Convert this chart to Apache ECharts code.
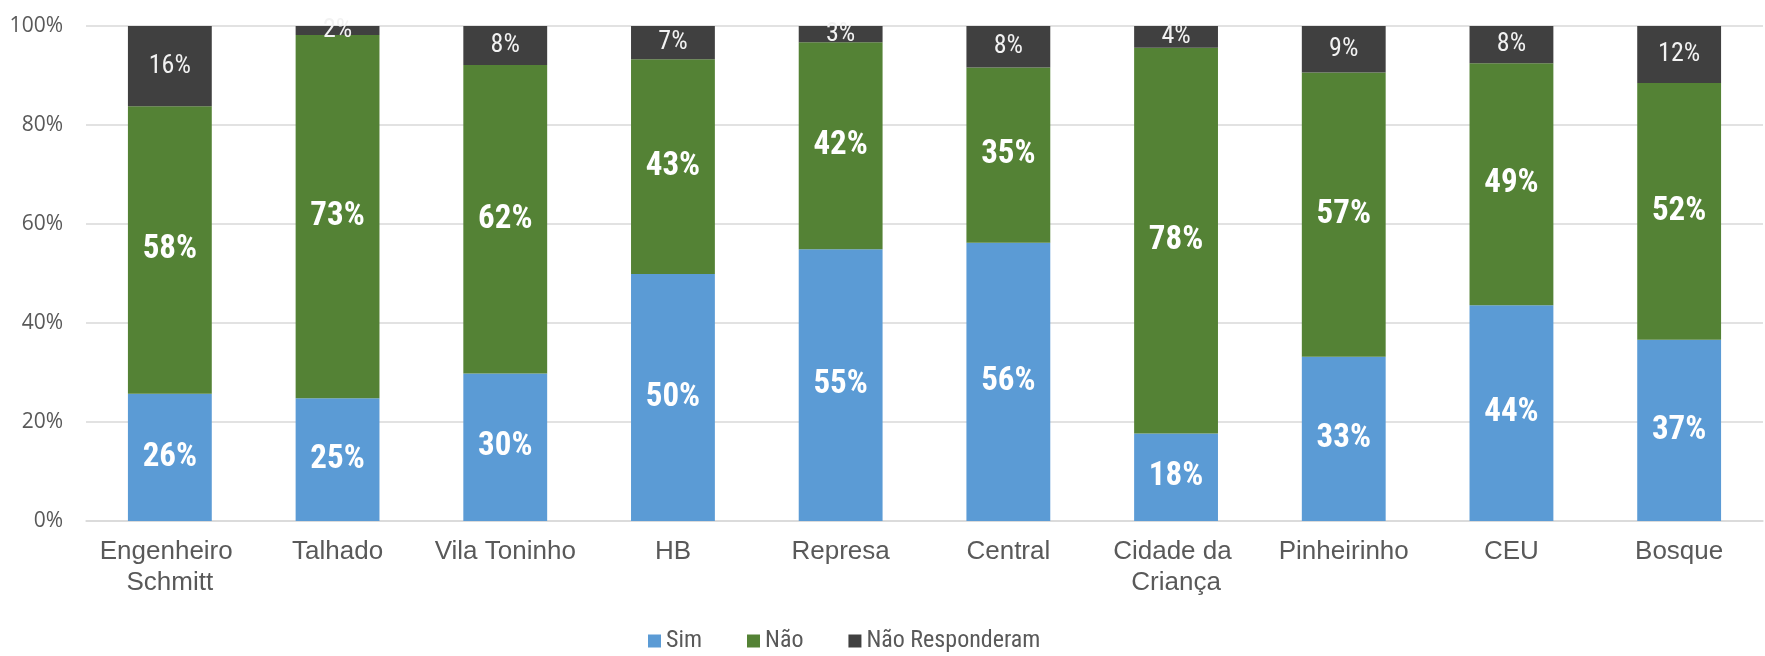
<!DOCTYPE html>
<html>
<head>
<meta charset="utf-8">
<script src="https://cdn.jsdelivr.net/npm/echarts@6/dist/echarts.min.js"></script>
<style>
html,body{margin:0;padding:0;background:#fff;}
#chart{width:1765px;height:656px;}
</style>
</head>
<body>
<div id="chart"></div>
<script>
const categories = ['Engenheiro Schmitt','Talhado','Vila Toninho','HB','Represa','Central','Cidade da Criança','Pinheirinho','CEU','Bosque'];
const sim = [25.7, 24.8, 29.8, 49.9, 54.9, 56.2, 17.7, 33.2, 43.6, 36.6];
const nao = [58.1, 73.4, 62.3, 43.4, 41.8, 35.4, 77.9, 57.4, 48.9, 51.9];
const naoResponderam = [16.2, 1.8, 7.9, 6.7, 3.3, 8.4, 4.4, 9.4, 7.5, 11.5];
const seriesNames = ['Sim', 'Não', 'Não Responderam'];
const yTicks = [0, 20, 40, 60, 80, 100];

const narrow = "'Noto Sans Condensed', 'Roboto Condensed', 'Liberation Sans Narrow', 'DejaVu Sans Condensed', sans-serif";
const colors = ['#5B9BD5', '#548235', '#404040'];

const chart = echarts.init(document.getElementById('chart'), null, {renderer: 'canvas'});

function bigLabel() {
  return {
    show: true, position: 'inside', color: '#FFFFFF',
    fontFamily: narrow, fontWeight: 'bold', fontSize: 33,
    formatter: p => Math.round(p.value) + '%'
  };
}

chart.setOption({
  animation: false,
  backgroundColor: '#FFFFFF',
  color: colors,
  grid: {left: 86, right: 2, top: 26, bottom: 135, containLabel: false},
  legend: {
    data: seriesNames,
    left: 643, top: 624,
    itemWidth: 13, itemHeight: 13, itemGap: 45,
    icon: 'rect',
    textStyle: {color: '#595959', fontFamily: narrow, fontSize: 24}
  },
  xAxis: {
    type: 'category',
    data: categories,
    axisLine: {show: true, lineStyle: {color: '#D9D9D9', width: 1.5}},
    axisTick: {show: false},
    axisLabel: {
      color: '#595959', fontFamily: "'Liberation Sans', Arial, sans-serif", fontSize: 26,
      margin: 15, lineHeight: 31, width: 160, overflow: 'break', interval: 0
    }
  },
  yAxis: {
    type: 'value', min: 0, max: 100, interval: 20,
    axisLine: {show: false}, axisTick: {show: false},
    splitLine: {lineStyle: {color: '#D9D9D9', width: 1.5}},
    axisLabel: {
      color: '#595959', fontFamily: "'Open Sans', 'Noto Sans', sans-serif", fontSize: 21, margin: 23,
      formatter: v => (yTicks.indexOf(v) >= 0 ? v + '%' : '')
    }
  },
  series: [
    {name: seriesNames[0], type: 'bar', stack: 'total', data: sim, barCategoryGap: '50%', label: bigLabel()},
    {name: seriesNames[1], type: 'bar', stack: 'total', data: nao, barCategoryGap: '50%', label: bigLabel()},
    {name: seriesNames[2], type: 'bar', stack: 'total', data: naoResponderam, barCategoryGap: '50%',
     label: {show: true, position: 'inside', color: '#F2F2F2', fontFamily: narrow, fontSize: 26,
             formatter: p => Math.round(p.value) + '%'}}
  ]
});
</script>
</body>
</html>
